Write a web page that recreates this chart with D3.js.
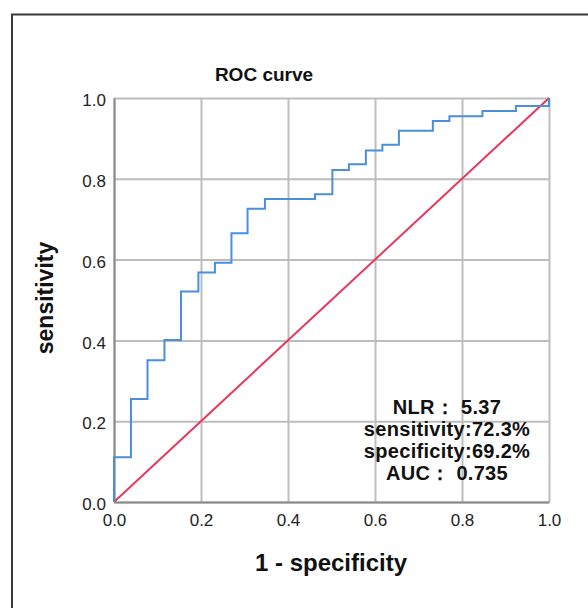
<!DOCTYPE html>
<html>
<head>
<meta charset="utf-8">
<script src="https://cdn.jsdelivr.net/npm/d3@7"></script>
<style>
  body { margin: 0; background: #fff; }
  text { font-family: Arial, "Liberation Sans", sans-serif; }
</style>
</head>
<body>
<svg id="chart" width="588" height="608"></svg>
<script>
// ROC step points (1 - specificity, sensitivity)
var fpr = [0, 0.039, 0.077, 0.116, 0.154, 0.194, 0.232, 0.270, 0.307, 0.347, 0.462,
  0.502, 0.540, 0.579, 0.617, 0.655, 0.733, 0.771, 0.847, 0.924, 1.0, 1.0];
var tpr = [0, 0.111, 0.255, 0.351, 0.401, 0.521, 0.568, 0.592, 0.665, 0.726, 0.750,
  0.762, 0.822, 0.836, 0.870, 0.884, 0.919, 0.943, 0.955, 0.968, 0.980, 1.0];
var refLine = [0, 1];
var tickValues = [0, 0.2, 0.4, 0.6, 0.8, 1.0];
var notes = ["NLR\uff1a 5.37", "sensitivity:72.3%", "specificity:69.2%", "AUC\uff1a 0.735"];

var margin = { top: 98, right: 39, bottom: 106, left: 114 };
var width = 588 - margin.left - margin.right;
var height = 608 - margin.top - margin.bottom;

var root = d3.select("#chart");

// outer frame, runs off the right and bottom edge
root.append("rect")
  .attr("x", 12).attr("y", 14.5)
  .attr("width", 600).attr("height", 620)
  .attr("fill", "none")
  .attr("stroke", "#3a3a3a")
  .attr("stroke-width", 2);

var svg = root.append("g")
  .attr("transform", "translate(" + margin.left + "," + margin.top + ")");

var x = d3.scaleLinear().domain([0, 1]).range([0, width]);
var y = d3.scaleLinear().domain([0, 1]).range([height, 0]);

// grid
svg.append("g")
  .attr("transform", "translate(0," + height + ")")
  .call(d3.axisBottom(x).tickValues(tickValues).tickSize(-height).tickFormat(""))
  .call(function (g) {
    g.select(".domain").remove();
    g.selectAll("line").attr("stroke", "#bdbdbd").attr("stroke-width", 2);
  });
svg.append("g")
  .call(d3.axisLeft(y).tickValues(tickValues).tickSize(-width).tickFormat(""))
  .call(function (g) {
    g.select(".domain").remove();
    g.selectAll("line").attr("stroke", "#bdbdbd").attr("stroke-width", 2);
  });

// axes
svg.append("g")
  .attr("transform", "translate(0," + height + ")")
  .call(d3.axisBottom(x).tickValues(tickValues).tickSize(0).tickPadding(12).tickFormat(d3.format(".1f")))
  .call(function (g) {
    g.select(".domain").attr("stroke", "#8a8a8a").attr("stroke-width", 2);
    g.selectAll("text").attr("font-size", 17).attr("fill", "#222");
  });
svg.append("g")
  .call(d3.axisLeft(y).tickValues(tickValues).tickSize(0).tickPadding(8).tickFormat(d3.format(".1f")))
  .call(function (g) {
    g.select(".domain").attr("stroke", "#8a8a8a").attr("stroke-width", 2);
    g.selectAll("text").attr("font-size", 17).attr("fill", "#222").attr("dy", "0.45em");
  });

// reference diagonal
svg.append("line")
  .attr("x1", x(refLine[0])).attr("y1", y(refLine[0]))
  .attr("x2", x(refLine[1])).attr("y2", y(refLine[1]))
  .attr("stroke", "#e8375c")
  .attr("stroke-width", 2);

// ROC curve
var pts = fpr.map(function (d, i) { return [d, tpr[i]]; });
svg.append("path")
  .datum(pts)
  .attr("fill", "none")
  .attr("stroke", "#4a8fdc")
  .attr("stroke-width", 2)
  .attr("d", d3.line()
    .x(function (d) { return x(d[0]); })
    .y(function (d) { return y(d[1]); })
    .curve(d3.curveStepBefore));

// annotation
svg.append("g")
  .selectAll("text")
  .data(notes)
  .enter()
  .append("text")
  .attr("x", 333)
  .attr("y", function (d, i) { return 316 + i * 22; })
  .attr("text-anchor", "middle")
  .attr("font-size", 20)
  .attr("font-weight", "bold")
  .attr("letter-spacing", 0.3)
  .attr("fill", "#111")
  .text(function (d) { return d; });

// titles
root.append("text")
  .attr("x", 264).attr("y", 81)
  .attr("text-anchor", "middle")
  .attr("font-size", 19)
  .attr("font-weight", "bold")
  .attr("fill", "#111")
  .text("ROC curve");

root.append("text")
  .attr("x", 331).attr("y", 571)
  .attr("text-anchor", "middle")
  .attr("font-size", 24)
  .attr("font-weight", "bold")
  .attr("fill", "#111")
  .text("1 - specificity");

root.append("text")
  .attr("transform", "translate(53,298)rotate(-90)")
  .attr("text-anchor", "middle")
  .attr("font-size", 23)
  .attr("font-weight", "bold")
  .attr("fill", "#111")
  .text("sensitivity");
</script>
</body>
</html>
